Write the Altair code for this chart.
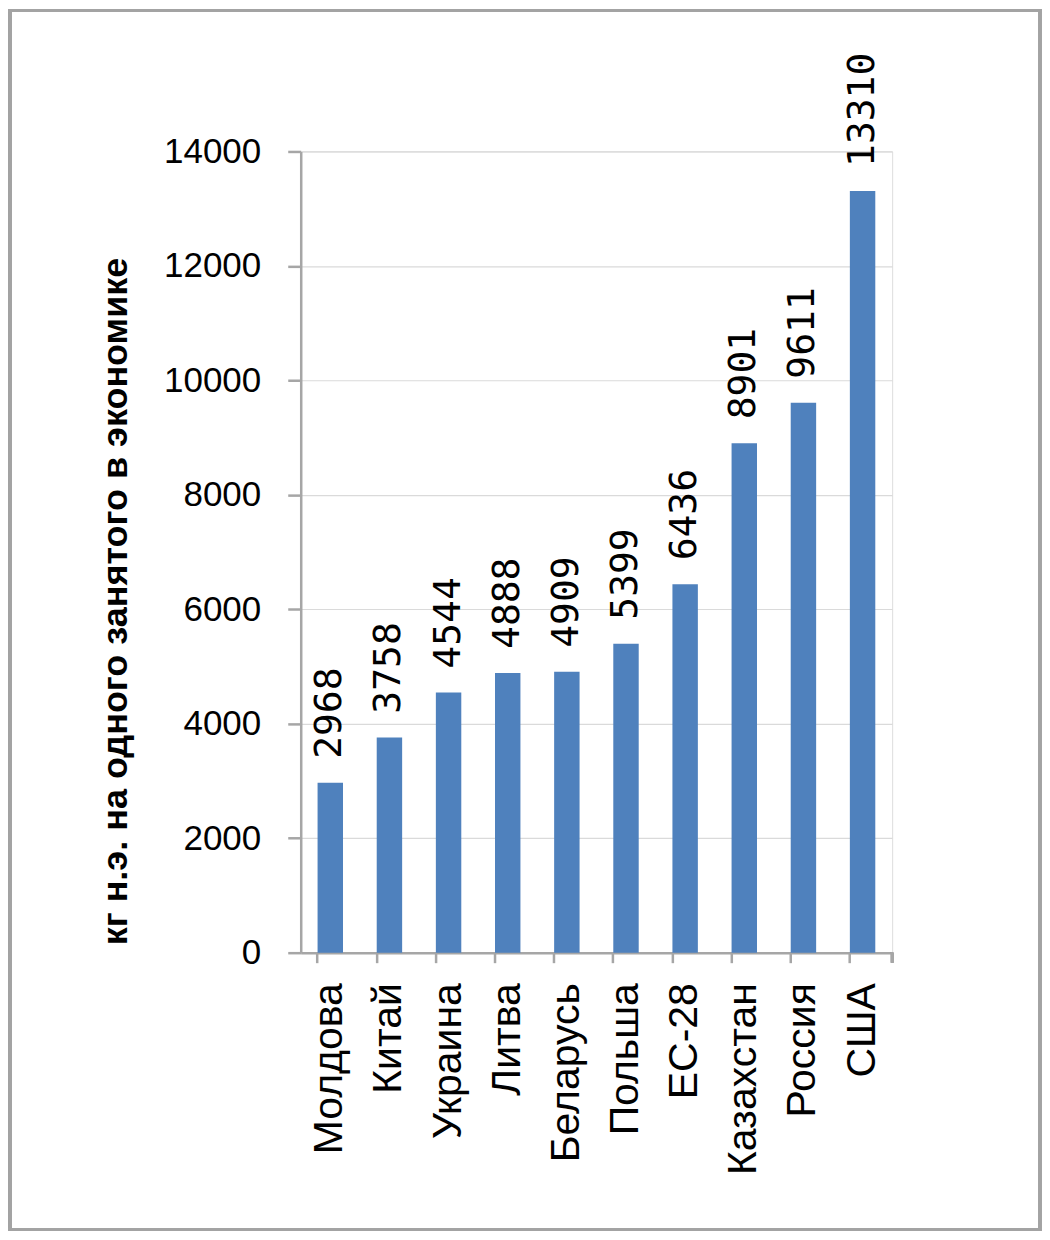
import altair as alt
import pandas as pd

countries = ["Молдова", "Китай", "Украина", "Литва", "Беларусь", "Польша",
             "ЕС-28", "Казахстан", "Россия", "США"]
values = [2968, 3758, 4544, 4888, 4909, 5399, 6436, 8901, 9611, 13310]
y_ticks = [0, 2000, 4000, 6000, 8000, 10000, 12000, 14000]

df = pd.DataFrame({"country": countries, "value": values})

W, H = 592, 802

x_enc = alt.X("country:N", sort=countries, title=None,
              scale=alt.Scale(paddingInner=0.57, paddingOuter=0.285),
              axis=alt.Axis(labelAngle=270, labelAlign="right", labelBaseline="middle",
                            labelFont="Liberation Sans", labelFontSize=41,
                            labelColor="black", labelPadding=20, labelLimit=400,
                            bandPosition=0,
                            tickSize=10, tickWidth=2.5, tickColor="#a6a6a6",
                            domainColor="#a6a6a6", domainWidth=2.5, grid=False))

y_enc = alt.Y("value:Q",
              scale=alt.Scale(domain=[0, 14000], nice=False),
              axis=alt.Axis(values=y_ticks, format="d",
                            title="кг н.э. на одного занятого в экономике",
                            titleFont="Liberation Sans", titleFontSize=36,
                            titleFontWeight="bold", titleColor="black",
                            titleAngle=270, titleAlign="center", titleBaseline="middle",
                            titleX=-185, titleY=450,
                            labelFont="Liberation Sans", labelFontSize=35,
                            labelColor="black", labelPadding=27,
                            tickSize=13, tickWidth=2.5, tickColor="#a6a6a6",
                            domainColor="#a6a6a6", domainWidth=2.5,
                            grid=True, gridColor="#dadada", gridWidth=1.2))

bars = alt.Chart(df).mark_bar(color="#4f81bd").encode(x=x_enc, y=y_enc)

labels = alt.Chart(df).mark_text(
    angle=270, align="left", baseline="middle", dx=24,
    font="DejaVu Sans Mono", fontSize=38, color="black"
).encode(x=alt.X("country:N", sort=countries), y="value:Q", text="value:Q")

end_tick = alt.Chart(df).mark_rule(color="#a6a6a6", strokeWidth=2.5).encode(
    x=alt.value(W), y=alt.value(H), y2=alt.value(H + 10))

border = alt.Chart(df).mark_rect(fill=None, stroke="#a3a3a3", strokeWidth=3).encode(
    x=alt.value(-291), x2=alt.value(740), y=alt.value(-141), y2=alt.value(1079))

chart = alt.layer(bars, labels, end_tick, border).properties(
    width=W, height=H,
    autosize=alt.AutoSizeParams(type="none"),
    padding={"left": 293, "top": 143, "right": 150, "bottom": 279},
).configure_view(stroke=None).configure(background="white")

chart.save("out.html", embed_options={"renderer": "svg", "actions": False})
